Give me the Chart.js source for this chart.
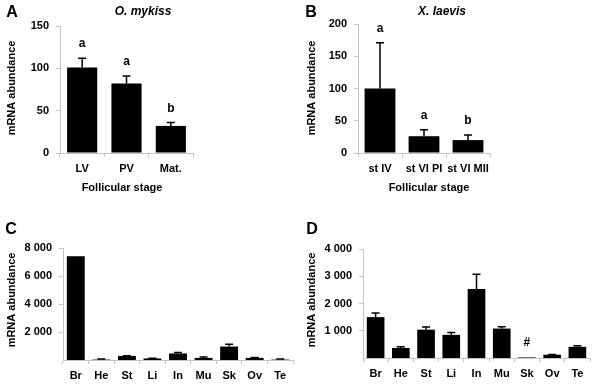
<!DOCTYPE html>
<html>
<head>
<meta charset="utf-8">
<script src="https://cdn.jsdelivr.net/npm/chart.js@4/dist/chart.umd.min.js"></script>
<style>
  body { margin: 0; background: #fff; }
  canvas { position: absolute; }
</style>
</head>
<body>
<canvas id="chartA" width="300" height="200" style="left:0;top:0"></canvas>
<canvas id="chartB" width="300" height="200" style="left:300px;top:0"></canvas>
<canvas id="chartC" width="300" height="187" style="left:0;top:200px"></canvas>
<canvas id="chartD" width="300" height="187" style="left:300px;top:200px"></canvas>
<script>
// A - O. mykiss, follicular stages
var stagesA = ['LV', 'PV', 'Mat.'];
var valuesA = [101, 82, 32];
var errorsA = [11, 9, 4];
var marksA = ['a', 'a', 'b'];
var ticksA = [0, 50, 100, 150];

// B - X. laevis
var stagesB = ['st IV', 'st VI PI', 'st VI MII'];
var valuesB = [100, 26, 20];
var errorsB = [71, 10, 8];
var marksB = ['a', 'a', 'b'];
var ticksB = [0, 50, 100, 150, 200];

// C / D - tissues
var tissues = ['Br', 'He', 'St', 'Li', 'In', 'Mu', 'Sk', 'Ov', 'Te'];
var valuesC = [7410, 30, 290, 110, 470, 150, 960, 150, 30];
var errorsC = [0, 40, 20, 10, 60, 70, 170, 20, 50];
var marksC = ['', '', '', '', '', '', '', '', ''];
var ticksC = [2000, 4000, 6000, 8000];

var valuesD = [1500, 370, 1040, 850, 2530, 1080, 20, 120, 410];
var errorsD = [150, 40, 100, 90, 540, 70, 0, 10, 40];
var marksD = ['', '', '', '', '', '', '#', '', ''];
var ticksD = [1000, 2000, 3000, 4000];

var FONT = 'Arial, "Liberation Sans", sans-serif';
var AXIS_GREY = '#c4c4c4';

Chart.defaults.font.family = FONT;
Chart.defaults.color = '#000';

function fmt(v) {
    return String(v).replace(/\B(?=(\d{3})+(?!\d))/g, ' ');
}

// error bars, significance letters and panel texts
var extras = {
    id: 'extras',
    afterDatasetsDraw: function (chart, args, opts) {
        var ctx = chart.ctx;
        var yScale = chart.scales.y;
        var meta = chart.getDatasetMeta(0);
        var ds = chart.data.datasets[0];
        ctx.save();
        ctx.strokeStyle = '#000';
        ctx.fillStyle = '#000';
        ctx.lineWidth = 1.5;
        meta.data.forEach(function (bar, i) {
            var v = ds.data[i], e = opts.errors[i];
            var top = yScale.getPixelForValue(v + e);
            if (e > 0) {
                ctx.beginPath();
                ctx.moveTo(bar.x, bar.y);
                ctx.lineTo(bar.x, top);
                ctx.moveTo(bar.x - 4, top);
                ctx.lineTo(bar.x + 4, top);
                ctx.stroke();
            }
            if (opts.marks[i]) {
                ctx.font = 'bold 12px ' + FONT;
                ctx.textAlign = 'center';
                ctx.textBaseline = 'alphabetic';
                ctx.fillText(opts.marks[i], bar.x, top - 11);
            }
        });

        ctx.textAlign = 'center';
        ctx.textBaseline = 'middle';
        ctx.font = 'bold 16px ' + FONT;
        ctx.fillText(opts.letter, opts.letterX, opts.letterY);

        if (opts.title) {
            ctx.font = 'italic bold 12px ' + FONT;
            ctx.fillText(opts.title, opts.titleX, 12);
        }
        if (opts.xTitle) {
            ctx.font = 'bold 11px ' + FONT;
            ctx.fillText(opts.xTitle, opts.xTitleX, 188);
        }
        ctx.font = 'bold 11px ' + FONT;
        ctx.translate(12, opts.yTitleY);
        ctx.rotate(-Math.PI / 2);
        ctx.fillText('mRNA abundance', 0, 0);
        ctx.restore();
    }
};

function makeChart(id, labels, values, p) {
    var canvas = document.getElementById(id);
    var W = canvas.width, H = canvas.height;
    return new Chart(canvas, {
        type: 'bar',
        data: {
            labels: labels,
            datasets: [{
                data: values,
                backgroundColor: '#000',
                borderWidth: 0,
                categoryPercentage: 1,
                barPercentage: p.barPct
            }]
        },
        options: {
            responsive: false,
            animation: false,
            devicePixelRatio: 1,
            layout: { padding: { left: 0, top: p.top, right: W - p.right, bottom: 0 } },
            plugins: {
                legend: { display: false },
                tooltip: { enabled: false },
                extras: p
            },
            scales: {
                x: {
                    grid: { color: AXIS_GREY, drawOnChartArea: false, tickLength: 4, offset: true },
                    border: { color: AXIS_GREY },
                    ticks: { padding: 5, font: { size: 11, weight: 'bold' }, maxRotation: 0, autoSkip: false },
                    afterFit: function (s) { s.height = H - p.bottom; }
                },
                y: {
                    min: 0,
                    max: p.ticks[p.ticks.length - 1],
                    grid: { color: AXIS_GREY, drawOnChartArea: false, tickLength: 4 },
                    border: { color: AXIS_GREY },
                    ticks: {
                        padding: 7,
                        font: { size: 11, weight: 'bold' },
                        callback: function (v) { return fmt(v); }
                    },
                    afterBuildTicks: function (s) {
                        s.ticks = p.ticks.map(function (v) { return { value: v }; });
                    },
                    afterFit: function (s) { s.width = p.left; }
                }
            }
        },
        plugins: [extras]
    });
}

makeChart('chartA', stagesA, valuesA, {
    left: 60, right: 193, top: 26, bottom: 153, barPct: 0.68, ticks: ticksA,
    errors: errorsA, marks: marksA,
    letter: 'A', letterX: 12, letterY: 13,
    title: 'O. mykiss', titleX: 143,
    xTitle: 'Follicular stage', xTitleX: 122, yTitleY: 88
});

makeChart('chartB', stagesB, valuesB, {
    left: 58, right: 190, top: 24, bottom: 153, barPct: 0.7, ticks: ticksB,
    errors: errorsB, marks: marksB,
    letter: 'B', letterX: 11, letterY: 13,
    title: 'X. laevis', titleX: 142,
    xTitle: 'Follicular stage', xTitleX: 129, yTitleY: 88
});

makeChart('chartC', tissues, valuesC, {
    left: 63, right: 293, top: 48, bottom: 160, barPct: 0.7, ticks: ticksC,
    errors: errorsC, marks: marksC,
    letter: 'C', letterX: 11, letterY: 30,
    yTitleY: 100
});

makeChart('chartD', tissues, valuesD, {
    left: 63, right: 290, top: 49, bottom: 158, barPct: 0.7, ticks: ticksD,
    errors: errorsD, marks: marksD,
    letter: 'D', letterX: 12, letterY: 30,
    yTitleY: 100
});
</script>
</body>
</html>
